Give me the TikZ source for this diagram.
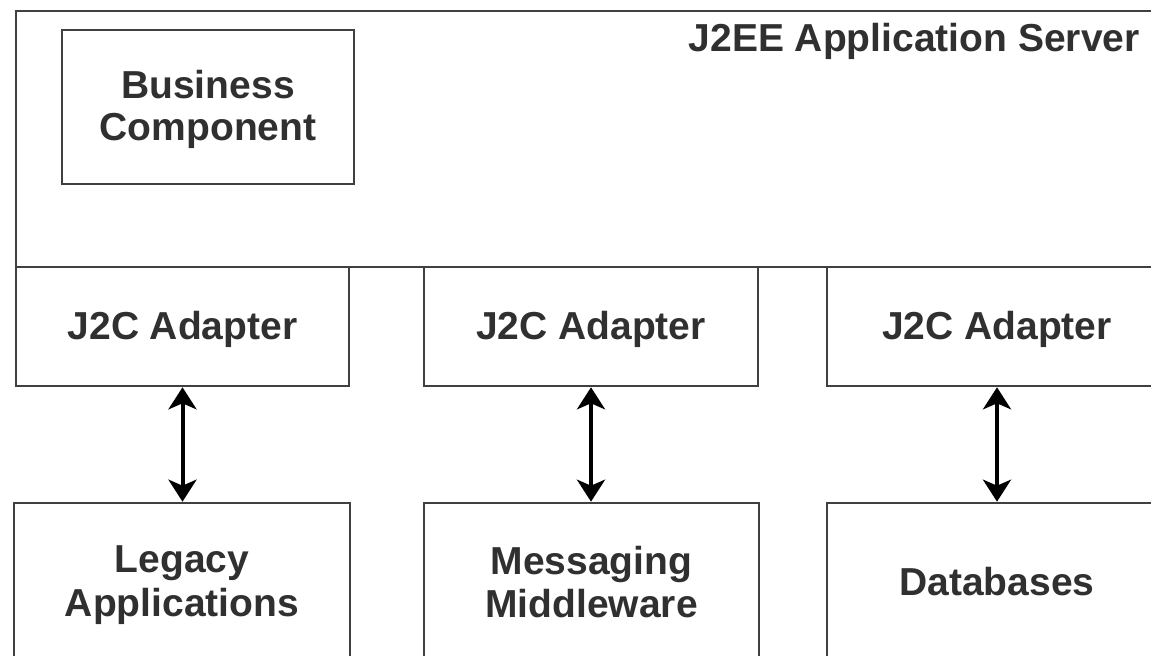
\documentclass[tikz,border=0pt]{standalone}
\usepackage{fontspec}
\setmainfont{Liberation Sans}
\usetikzlibrary{arrows.meta}
\definecolor{edge}{HTML}{404040}
\definecolor{ink}{HTML}{303030}
% a strut centred on the capital letters, so every line sits evenly in its box
\newcommand{\textline}[1]{\rule[-0.142em]{0pt}{1em}#1}
\tikzset{
  block/.style={draw=edge, line width=1.3pt, rectangle, inner sep=0pt,
    align=center, text=ink, font=\bfseries\fontsize{19.5pt}{20.8pt}\selectfont},
  link/.style={line width=2pt, black, {Stealth[length=11pt,width=14pt,inset=3pt]}-{Stealth[length=11pt,width=14pt,inset=3pt]}}
}
\begin{document}
\begin{tikzpicture}[x=0.5pt, y=-0.5pt]
  \useasboundingbox (0,0) rectangle (1151,656);
  \fill[white] (0,0) rectangle (1151,656);
  \clip (0,0) rectangle (1151,656);

  % application server frame
  \node[block, minimum width=575.5pt, minimum height=128pt] (server) at (591.5,139) {};
  \node[text=ink, font=\bfseries\fontsize{19.5pt}{20.8pt}\selectfont, anchor=base east, inner sep=0pt]
    (title) at (1140,52) {J2EE Application Server};
  \node[block, minimum width=146pt, minimum height=77pt] (bc) at (208,107) {\textline{Business}\\\textline{Component}};

  % connector adapters
  \node[block, minimum width=166.5pt, minimum height=59.5pt] (a1) at (182.5,326.5) {\textline{J2C Adapter}};
  \node[block, minimum width=167pt, minimum height=59.5pt] (a2) at (591,326.5) {\textline{J2C Adapter}};
  \node[block, minimum width=170pt, minimum height=59.5pt] (a3) at (997,326.5) {\textline{J2C Adapter}};

  % enterprise information systems
  \node[block, minimum width=168pt, minimum height=79pt] (legacy) at (182,582) {\textline{Legacy}\\\textline{Applications}};
  \node[block, minimum width=167.5pt, minimum height=79pt] (msg) at (591.5,582) {\textline{Messaging}\\\textline{Middleware}};
  \node[block, minimum width=170pt, minimum height=79pt] (db) at (997,582) {\textline{Databases}};

  % two-way links
  \draw[link] (a1.south) -- (a1.south |- legacy.north);
  \draw[link] (a2.south) -- (a2.south |- msg.north);
  \draw[link] (a3.south) -- (a3.south |- db.north);
\end{tikzpicture}
\end{document}
